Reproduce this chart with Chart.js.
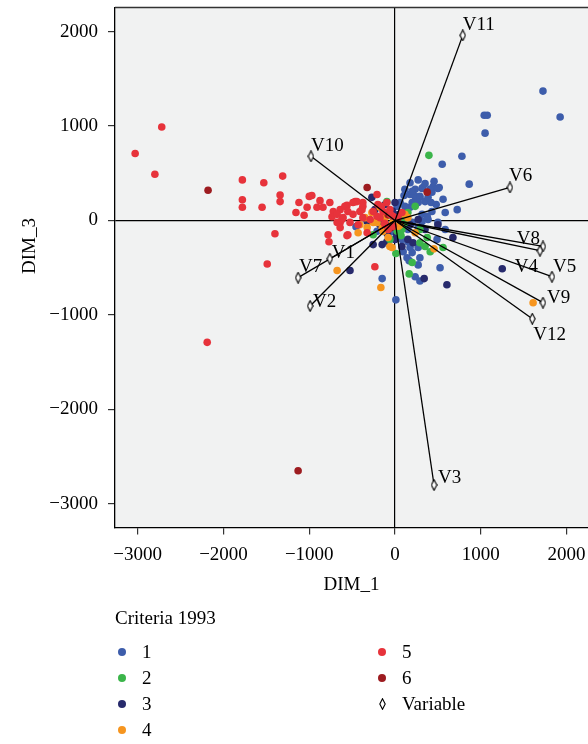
<!DOCTYPE html>
<html><head><meta charset="utf-8">
<script src="https://cdn.jsdelivr.net/npm/chart.js@4.4.0/dist/chart.umd.min.js"></script>
<style>
html,body{margin:0;padding:0;background:#fff;}
#wrap{position:relative;width:588px;height:744px;overflow:hidden;font-family:"Liberation Serif",serif;color:#000;}
canvas{position:absolute;left:0;top:0;}
.lg{position:absolute;font-size:19px;line-height:20px;white-space:nowrap;}
.dot{position:absolute;width:8px;height:8px;border-radius:50%;}
</style></head><body>
<div id="wrap"><canvas id="c" width="588" height="744"></canvas><div id="legend"></div></div>
<script>
// ---------- DATA ----------
const xTicks = [-3000, -2000, -1000, 0, 1000, 2000];
const yTicks = [-3000, -2000, -1000, 0, 1000, 2000];
const xRange = [-3265, 2250];
const yRange = [-3250, 2255];
const xTitle = 'DIM_1';
const yTitle = 'DIM_3';
const legendTitle = 'Criteria 1993';
const groupLabels = ['1', '2', '3', '4', '5', '6'];

const group1 = [[1725,1370],[1925,1095],[1040,1115],[1075,1115],[1050,925],[780,680],[550,595],[455,415],[515,350],[865,385],[430,300],[315,340],[235,255],[290,255],[445,360],[410,330],[325,350],[290,245],[350,200],[270,190],[200,190],[175,140],[115,150],[60,190],[25,150],[500,340],[420,190],[430,95],[585,85],[725,115],[500,-20],[385,10],[315,65],[-455,-65],[130,-5],[200,-20],[315,-10],[375,45],[270,-75],[150,-95],[60,-95],[80,-200],[150,-225],[175,-285],[95,-330],[200,-340],[140,-395],[270,-285],[290,-395],[585,-95],[490,-200],[270,-470],[525,-500],[165,-425],[235,-595],[290,-640],[-150,-615],[10,-840],[-210,-115],[-60,-45],[105,265],[175,275],[235,330],[115,330],[60,50],[100,-60],[-40,-120],[130,90],[-100,-100],[175,400],[270,430],[350,390],[200,310],[385,245],[480,170],[560,225]];
const group2 = [[-95,200],[235,150],[150,85],[-255,-150],[10,-350],[25,-115],[80,-95],[375,-180],[350,-275],[410,-330],[560,-285],[290,-235],[200,-445],[165,-565],[395,690],[60,10],[290,-95],[-20,20],[110,-30],[-60,-200],[70,-160]];
const group3 = [[-270,245],[0,190],[-60,85],[270,10],[115,10],[-325,-10],[-175,-45],[-255,-255],[-150,-255],[-95,-225],[-525,-530],[675,-180],[150,-200],[210,-235],[80,-275],[500,-45],[350,-95],[340,-615],[605,-680],[1250,-510],[60,65],[-115,170],[175,-45],[0,-200],[-235,115],[30,60],[-30,100],[80,-40],[20,-150],[-90,-140]];
const group4 = [[-675,-530],[-165,-710],[1610,-870],[455,-300],[235,-130],[-60,-275],[-140,-115],[-80,-180],[-325,-75],[-430,-130],[-270,85],[-210,-20],[-115,30],[150,30],[-350,30],[-255,-20],[-35,-285],[60,-45],[115,65],[-410,-45],[-175,140],[-30,-30],[-90,70],[40,-60],[-150,-80]];
const group5 = [[-2720,990],[-3030,710],[-2800,490],[-1780,430],[-1530,400],[-1310,470],[-1780,220],[-1780,140],[-1550,140],[-1340,270],[-1340,200],[-1120,190],[-1000,255],[-970,265],[-1155,85],[-1060,55],[-1025,140],[-875,210],[-910,140],[-840,140],[-760,190],[-720,95],[-640,115],[-560,160],[-465,200],[-375,190],[-385,115],[-490,65],[-605,30],[-640,-20],[-640,-75],[-525,-20],[-430,-45],[-560,-160],[-780,-150],[-770,-225],[-1400,-140],[-1490,-460],[-2190,-1290],[-210,275],[-235,-490],[-95,190],[-325,-130],[-445,200],[-375,150],[-410,95],[-490,190],[-585,150],[-550,95],[-735,40],[-620,10],[-675,-20],[-200,170],[-140,95],[-255,95],[-175,30],[80,85],[-675,65],[-375,30],[-210,45],[-25,45],[35,30],[-550,-150],[-115,-45],[-60,115],[-290,10],[-80,-95],[-50,60],[-120,-30],[30,20],[-20,-60],[-160,150]];
const group6 = [[-2180,320],[-325,350],[-1130,-2650],[375,300],[-45,-75],[-80,60]];

const varNames = ['V1','V2','V3','V4','V5','V6','V7','V8','V9','V10','V11','V12'];
const varX = [-760, -990, 455, 1690, 1830, 1340, -1130, 1725, 1725, -980, 790, 1600];
const varY = [-405, -905, -2800, -320, -595, 350, -605, -275, -870, 680, 1960, -1040];

// ---------- STYLE ----------
const groupColors = ['#3d5dab', '#3bb54a', '#272a6c', '#f6951f', '#e7333b', '#9d1c20'];
const groupOrder = [6, 4, 5, 3, 1, 2];
const labelOffsets = [[2,-1,'left'],[3,1,'left'],[4,-2,'left'],[-2,21,'right'],[1,-5,'left'],[-1,-6,'left'],[1,-6,'left'],[-3,-2,'right'],[4,0,'left'],[0,-5,'left'],[0,-5,'left'],[1,21,'left']];
const FAM = '"Liberation Serif", "Times New Roman", serif';
const FONT = {family: FAM, size: 19};
const fmt = v => v < 0 ? '\u2212' + Math.abs(v) : String(v);

const diamond = (() => {
  const c = document.createElement('canvas'); c.width = 7; c.height = 12;
  const g = c.getContext('2d');
  g.beginPath(); g.moveTo(3.5,0.7); g.lineTo(6.2,6); g.lineTo(3.5,11.3); g.lineTo(0.8,6); g.closePath();
  g.fillStyle = '#fff'; g.fill(); g.lineWidth = 1.1; g.strokeStyle = '#000'; g.stroke();
  return c;
})();

const groupsData = [group1, group2, group3, group4, group5, group6];
const pointSets = groupsData.map((d, i) => ({
  type: 'scatter', label: groupLabels[i],
  data: d.map(([x, y]) => ({x, y})),
  backgroundColor: groupColors[i], borderWidth: 0,
  pointRadius: 3.8, pointHoverRadius: 3.8, order: groupOrder[i]
}));
const arrowSets = varNames.map((n, i) => ({
  type: 'scatter', label: n,
  data: [{x: 0, y: 0}, {x: varX[i], y: varY[i]}],
  showLine: true, borderColor: '#000', borderWidth: 1.3, fill: false,
  pointRadius: [0, 5], pointHoverRadius: [0, 5], pointStyle: ['circle', diamond], order: 0
}));

const deco = {
  id: 'deco',
  beforeDraw(chart) {
    const {ctx, chartArea: a} = chart;
    ctx.save(); ctx.fillStyle = '#f1f2f2';
    ctx.fillRect(a.left, a.top, a.right - a.left, a.bottom - a.top);
    ctx.restore();
  },
  beforeDatasetsDraw(chart) {
    const {ctx, chartArea: a} = chart;
    ctx.save(); ctx.strokeStyle = '#333'; ctx.lineWidth = 1.5;
    ctx.beginPath(); ctx.moveTo(a.left, a.top); ctx.lineTo(a.right, a.top); ctx.stroke();
    ctx.restore();
  },
  afterDatasetsDraw(chart) {
    const {ctx} = chart; const xs = chart.scales.x, ys = chart.scales.y;
    ctx.save(); ctx.font = '19px ' + FAM; ctx.fillStyle = '#000'; ctx.textBaseline = 'alphabetic';
    varNames.forEach((n, i) => {
      const o = labelOffsets[i];
      ctx.textAlign = o[2];
      ctx.fillText(n, xs.getPixelForValue(varX[i]) + o[0], ys.getPixelForValue(varY[i]) + o[1]);
    });
    ctx.restore();
  },
  afterDraw(chart) {
    const {ctx, chartArea: a} = chart;
    ctx.save(); ctx.font = '19px ' + FAM; ctx.fillStyle = '#000';
    ctx.textAlign = 'center'; ctx.textBaseline = 'middle';
    ctx.fillText(xTitle, (a.left + a.right) / 2, 585);
    ctx.translate(30, 246); ctx.rotate(-Math.PI / 2);
    ctx.fillText(yTitle, 0, 0);
    ctx.restore();
  }
};

const gridColor = c => (c.tick && c.tick.value === 0) ? '#000' : 'rgba(0,0,0,0)';

new Chart(document.getElementById('c'), {
  type: 'scatter',
  data: {datasets: [...arrowSets, ...pointSets]},
  options: {
    responsive: false, animation: false, devicePixelRatio: 1,
    layout: {autoPadding: false, padding: {top: 7.5, left: 0, right: 0, bottom: 148.5}},
    plugins: {legend: {display: false}, tooltip: {enabled: false}},
    events: [],
    scales: {
      x: {
        type: 'linear', min: xRange[0], max: xRange[1],
        afterBuildTicks: s => { s.ticks = xTicks.map(v => ({value: v})); },
        afterFit: s => { s.height = 68; s.paddingLeft = 0; s.paddingRight = 0; },
        ticks: {font: FONT, color: '#000', padding: 9, maxRotation: 0, autoSkip: false, callback: v => fmt(v)},
        grid: {color: gridColor, lineWidth: 1.2, tickColor: '#333', tickLength: 7},
        border: {display: true, color: '#000', width: 1.3}
      },
      y: {
        type: 'linear', min: yRange[0], max: yRange[1],
        afterBuildTicks: s => { s.ticks = yTicks.map(v => ({value: v})); },
        afterFit: s => { s.width = 115; s.paddingTop = 0; s.paddingBottom = 0; },
        ticks: {font: FONT, color: '#000', padding: 10, autoSkip: false, callback: v => fmt(v)},
        grid: {color: gridColor, lineWidth: 1.2, tickColor: '#333', tickLength: 7},
        border: {display: true, color: '#000', width: 1.3}
      }
    }
  },
  plugins: [deco]
});

// ---------- LEGEND (HTML) ----------
const lg = document.getElementById('legend');
function addText(txt, left, cy) {
  const s = document.createElement('div'); s.className = 'lg';
  s.style.left = left + 'px'; s.style.top = (cy - 10) + 'px'; s.textContent = txt; lg.appendChild(s);
}
addText(legendTitle, 115, 618);
const rows = [652, 678, 704, 730];
groupLabels.forEach((g, i) => {
  const col = i < 4 ? 0 : 1; const row = i < 4 ? i : i - 4;
  const cx = col ? 382 : 122; const cy = rows[row];
  const d = document.createElement('div'); d.className = 'dot';
  d.style.left = (cx - 4) + 'px'; d.style.top = (cy - 4) + 'px'; d.style.background = groupColors[i];
  lg.appendChild(d);
  addText(g, cx + 20, cy);
});
const dm = document.createElement('canvas'); dm.width = 7; dm.height = 12;
dm.getContext('2d').drawImage(diamond, 0, 0);
dm.style.position = 'absolute'; dm.style.left = (382 - 3.5) + 'px'; dm.style.top = (rows[2] - 6) + 'px';
lg.appendChild(dm);
addText('Variable', 402, rows[2]);
</script>
</body></html>
